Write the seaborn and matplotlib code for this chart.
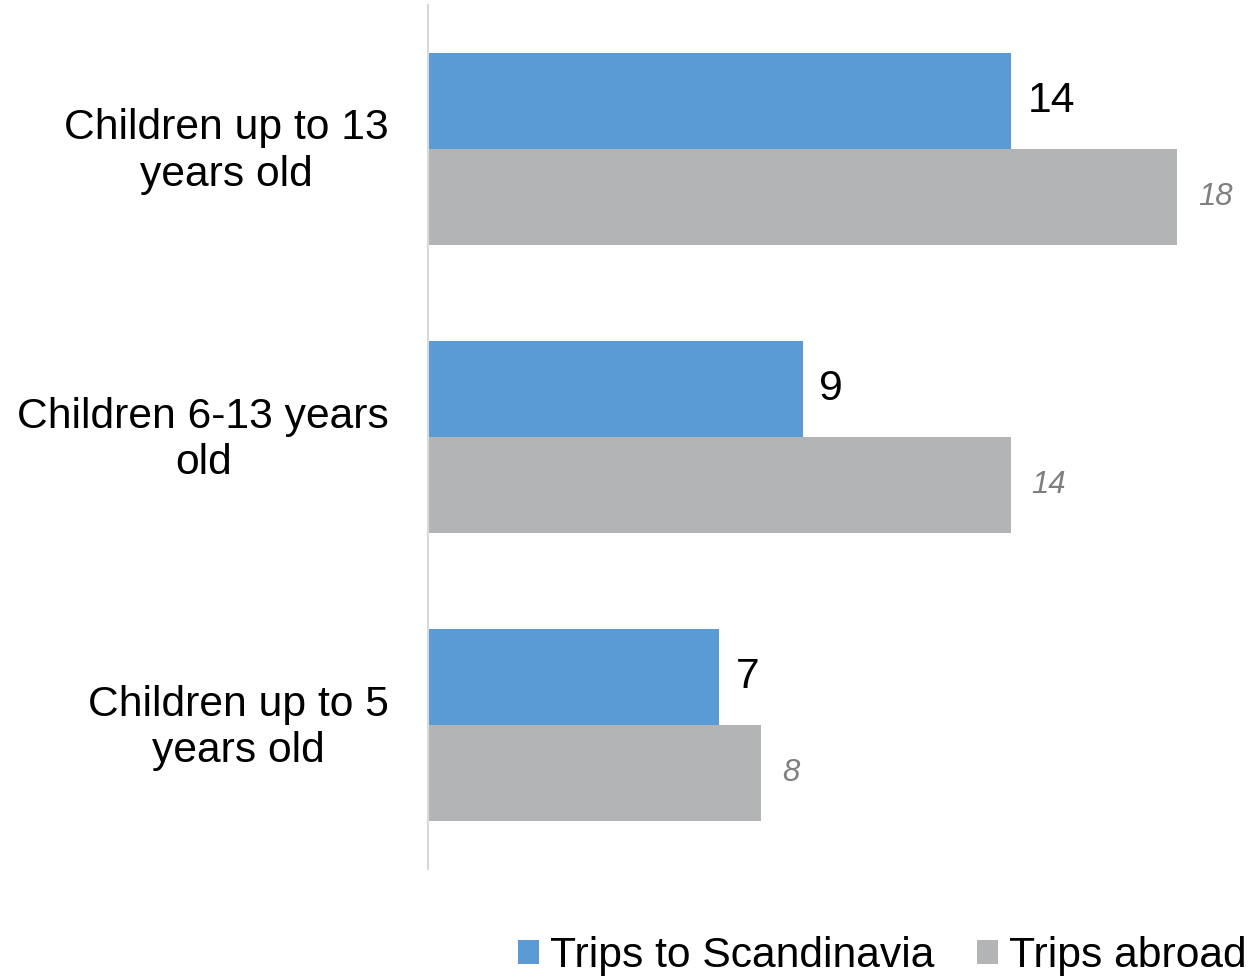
import matplotlib
matplotlib.use("Agg")
import matplotlib.pyplot as plt
import matplotlib.transforms as mtransforms
import seaborn as sns
import pandas as pd

# Data
categories = ["Children up to 13\nyears old", "Children 6-13 years\nold", "Children up to 5\nyears old"]
series_names = ["Trips to Scandinavia", "Trips abroad"]
scandinavia = [14, 9, 7]
abroad = [18, 14, 8]

BLUE = "#5B9BD5"
GREY = "#B3B4B6"
BIG = 30.7

sns.set_theme(style="white")
plt.rcParams["font.family"] = ["Liberation Sans", "DejaVu Sans"]

df = pd.DataFrame({
    "category": categories * 2,
    "value": scandinavia + abroad,
    "series": [series_names[0]] * 3 + [series_names[1]] * 3,
})

fig = plt.figure(figsize=(12.48, 9.76), dpi=100)
ax = fig.add_axes([428 / 1248, 0.1096, 1 - 428 / 1248, 0.8853])

sns.barplot(data=df, y="category", x="value", hue="series", orient="h",
            order=categories, hue_order=series_names,
            palette=[BLUE, GREY], width=0.667, saturation=1,
            linewidth=0, ax=ax)

ax.set_xlim(0, 19.7)
ax.set_ylim(2.5, -0.5)
ax.set_xlabel("")
ax.set_ylabel("")
ax.set_xticks([])

for s in ["top", "right", "bottom"]:
    ax.spines[s].set_visible(False)
ax.spines["left"].set_color("#D9D9D9")
ax.spines["left"].set_linewidth(1.5)

ax.tick_params(axis="y", length=0, pad=28, labelsize=BIG)
lift = mtransforms.ScaledTranslation(0, 5 / 100, fig.dpi_scale_trans)
for lbl in ax.get_yticklabels():
    lbl.set_multialignment("center")
    lbl.set_linespacing(1.2)
    lbl.set_color("black")
    lbl.set_transform(lbl.get_transform() + lift)

# Value labels
ax.bar_label(ax.containers[0], labels=[str(v) for v in scandinavia],
             padding=12, fontsize=BIG, color="black")
ax.bar_label(ax.containers[1], labels=[str(v) for v in abroad],
             padding=15, fontsize=22.4, color="#7F7F7F", fontstyle="italic")

leg = ax.get_legend()
handles, labels = ax.get_legend_handles_labels()
leg.remove()
fig.legend(handles, labels, loc="lower right", bbox_to_anchor=(0.999, 0.0),
           ncol=2, frameon=False, fontsize=BIG, labelcolor="black",
           handlelength=0.5, handleheight=0.5, handletextpad=0.25,
           columnspacing=1.0, borderaxespad=0, borderpad=0)

fig.savefig("out.png", dpi=100)
